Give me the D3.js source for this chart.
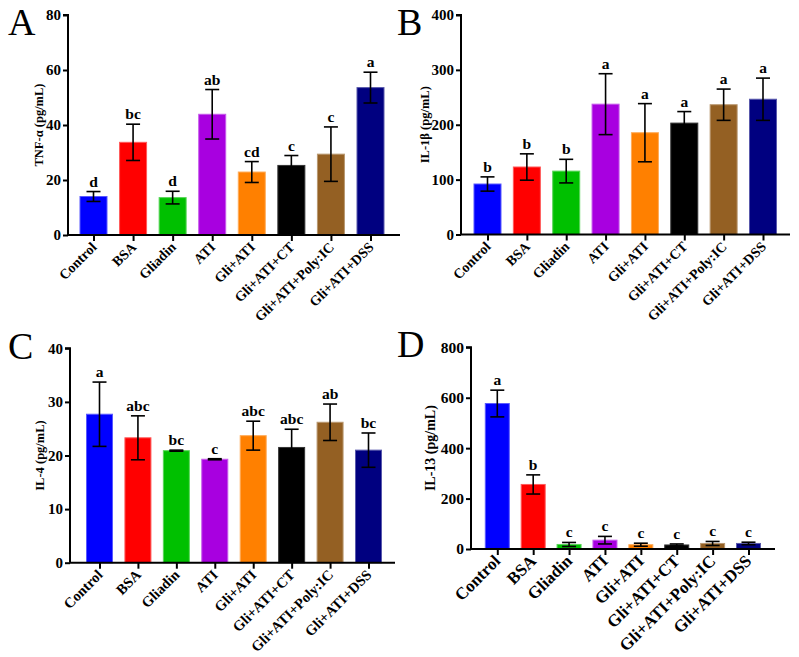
<!DOCTYPE html>
<html><head><meta charset="utf-8">
<script src="https://cdn.jsdelivr.net/npm/d3@7"></script>
<style>
html,body{margin:0;padding:0;background:#fff;}
svg{display:block;font-family:"Liberation Serif","Times New Roman",serif;}
</style></head>
<body>
<svg id="chart" width="799" height="657"></svg>
<script>
const categories = ["Control","BSA","Gliadin","ATI","Gli+ATI","Gli+ATI+CT","Gli+ATI+Poly:IC","Gli+ATI+DSS"];
const colors = ["#0000FF","#FF0000","#00C000","#A800E0","#FF8000","#000000","#946023","#000080"];

const tnfMean = [14, 33.7, 13.6, 43.9, 22.9, 25.3, 29.4, 53.6];
const tnfSD   = [1.8, 6.6, 2.3, 9.0, 3.8, 3.6, 9.9, 5.6];
const tnfSig  = ["d","bc","d","ab","cd","c","c","a"];
const tnfTicks = [0,20,40,60,80];

const il1bMean = [92, 123, 115.5, 237.5, 185.5, 203, 236.5, 246.5];
const il1bSD   = [13, 24, 21.5, 55.5, 53, 21, 28.5, 38.5];
const il1bSig  = ["b","b","b","a","a","a","a","a"];
const il1bTicks = [0,100,200,300,400];

const il4Mean = [27.7, 23.3, 20.9, 19.3, 23.7, 21.5, 26.2, 21.0];
const il4SD   = [6.0, 4.1, 0.1, 0.1, 2.7, 3.4, 3.4, 3.2];
const il4Sig  = ["a","abc","bc","c","abc","abc","ab","bc"];
const il4Ticks = [0,10,20,30,40];

const il13Mean = [577, 256, 18, 35, 17, 16, 22, 22];
const il13SD   = [53, 38, 8, 15, 6, 4, 8, 5];
const il13Sig  = ["a","b","c","c","c","c","c","c"];
const il13Ticks = [0,200,400,600,800];

const panels = [
  {letter:"A", lx:8, ly:35, title:"TNF-α (pg/mL)", mean:tnfMean, sd:tnfSD, sig:tnfSig, ticks:tnfTicks,
   axisX:68, yTop:15, yBot:235, xEnd:400, c0:93.5, c1:370.5, barW:27, tickFs:15, titleFs:12.5, labFs:14, sigFs:15.5, titleX:40},
  {letter:"B", lx:397, ly:35, title:"IL-1β (pg/mL)", mean:il1bMean, sd:il1bSD, sig:il1bSig, ticks:il1bTicks,
   axisX:461, yTop:15, yBot:234.5, xEnd:790, c0:487.5, c1:763, barW:27, tickFs:15, titleFs:12.5, labFs:14, sigFs:15.5, titleX:426},
  {letter:"C", lx:8, ly:359, title:"IL-4 (pg/mL)", mean:il4Mean, sd:il4SD, sig:il4Sig, ticks:il4Ticks,
   axisX:70, yTop:348.3, yBot:562.7, xEnd:395, c0:99.5, c1:368.5, barW:26, tickFs:15, titleFs:12.5, labFs:14.5, sigFs:15.5, titleX:41},
  {letter:"D", lx:397, ly:357, title:"IL-13 (pg/mL)", mean:il13Mean, sd:il13SD, sig:il13Sig, ticks:il13Ticks,
   axisX:471, yTop:347.3, yBot:549, xEnd:775, c0:497.3, c1:748.5, barW:24, tickFs:15.5, titleFs:14, labFs:17, sigFs:15.5, titleX:432}
];

const svg = d3.select("#chart");

function lighten(c){ return d3.interpolateRgb(c, "#ffffff")(0.35); }

panels.forEach(p => {
  const g = svg.append("g");
  const y = d3.scaleLinear().domain([p.ticks[0], p.ticks[p.ticks.length-1]]).range([p.yBot, p.yTop]);
  const x = d3.scalePoint().domain(categories).range([p.c0, p.c1]);

  g.selectAll("rect.bar").data(categories).enter().append("rect")
    .attr("x", d => x(d) - p.barW/2)
    .attr("width", p.barW)
    .attr("y", (d,i) => y(p.mean[i]))
    .attr("height", (d,i) => y(0) - y(p.mean[i]))
    .attr("fill", (d,i) => colors[i])
    .attr("stroke", (d,i) => i===5 ? "#333" : lighten(colors[i]))
    .attr("stroke-width", 1);

  const cap = 7;
  const eb = g.selectAll("g.eb").data(categories).enter().append("g")
    .attr("stroke", "#000").attr("stroke-width", 1.6);
  eb.append("line").attr("x1", d => x(d)).attr("x2", d => x(d))
    .attr("y1", (d,i) => y(p.mean[i] + p.sd[i])).attr("y2", (d,i) => y(Math.max(0, p.mean[i] - p.sd[i])));
  eb.append("line").attr("x1", d => x(d)-cap).attr("x2", d => x(d)+cap)
    .attr("y1", (d,i) => y(p.mean[i] + p.sd[i])).attr("y2", (d,i) => y(p.mean[i] + p.sd[i]));
  eb.append("line").attr("x1", d => x(d)-cap).attr("x2", d => x(d)+cap)
    .attr("y1", (d,i) => y(Math.max(0, p.mean[i] - p.sd[i]))).attr("y2", (d,i) => y(Math.max(0, p.mean[i] - p.sd[i])));

  g.selectAll("text.sig").data(categories).enter().append("text")
    .attr("x", d => x(d))
    .attr("y", (d,i) => y(p.mean[i] + p.sd[i]) - 5)
    .attr("text-anchor", "middle")
    .attr("font-weight", "bold")
    .attr("font-size", p.sigFs)
    .text((d,i) => p.sig[i]);

  const ya = d3.axisLeft(y).tickValues(p.ticks).tickSize(5).tickPadding(2).tickFormat(d3.format("d"));
  const yg = g.append("g").attr("transform", `translate(${p.axisX},0)`).call(ya);
  yg.select(".domain").attr("stroke-width", 2).attr("d", `M-5,${p.yTop}H0V${p.yBot}`);
  yg.selectAll(".tick line").attr("stroke-width", 2);
  yg.selectAll(".tick text").attr("font-family", "Liberation Serif").attr("font-weight", "bold")
    .attr("font-size", p.tickFs).attr("fill", "#000");

  const xa = d3.axisBottom(x).tickSize(6).tickFormat("");
  const xg = g.append("g").attr("transform", `translate(0,${p.yBot})`).call(xa);
  xg.select(".domain").attr("stroke-width", 2).attr("d", `M${p.axisX},0H${p.xEnd}`);
  xg.selectAll(".tick line").attr("stroke-width", 2);

  g.selectAll("text.xl").data(categories).enter().append("text")
    .attr("transform", d => `translate(${x(d)+4},${p.yBot+13}) rotate(-45)`)
    .attr("text-anchor", "end")
    .attr("font-weight", "bold")
    .attr("font-size", p.labFs)
    .text(d => d);

  g.append("text")
    .attr("transform", `translate(${p.titleX},${(p.yTop+p.yBot)/2}) rotate(-90)`)
    .attr("text-anchor", "middle")
    .attr("dominant-baseline", "middle")
    .attr("font-weight", "bold")
    .attr("font-size", p.titleFs)
    .text(p.title);

  svg.append("text").attr("x", p.lx).attr("y", p.ly)
    .attr("font-size", 38).text(p.letter);
});
</script>
</body></html>
